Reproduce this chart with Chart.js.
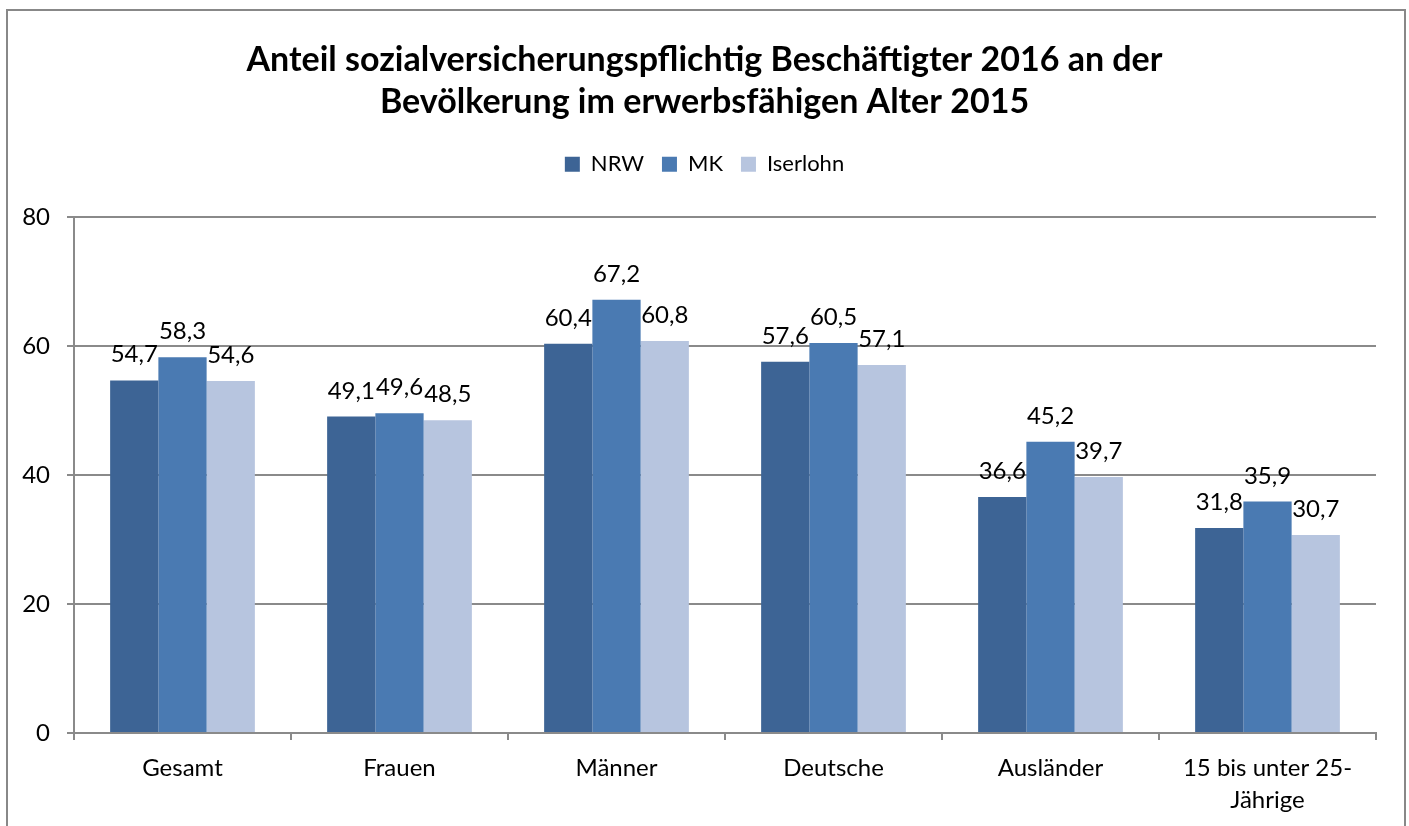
<!DOCTYPE html>
<html>
<head>
<meta charset="utf-8">
<script src="https://cdn.jsdelivr.net/npm/chart.js"></script>
<style>
  html, body { margin: 0; padding: 0; background: #fff; }
  #wrap { position: relative; width: 1409px; height: 826px; overflow: hidden; }
  #frame { position: absolute; left: 6px; top: 9px; width: 1400px; height: 840px; border: 2px solid #888; box-sizing: border-box; }
  canvas { position: absolute; left: 0; top: 0; }
</style>
</head>
<body>
<div id="wrap">
  <div id="frame"></div>
  <canvas id="chart" width="1409" height="826"></canvas>
</div>
<script>
// data
const categories = ['Gesamt', 'Frauen', 'Männer', 'Deutsche', 'Ausländer', ['15 bis unter 25-', 'Jährige']];
const nrw = [54.7, 49.1, 60.4, 57.6, 36.6, 31.8];
const mk = [58.3, 49.6, 67.2, 60.5, 45.2, 35.9];
const iserlohn = [54.6, 48.5, 60.8, 57.1, 39.7, 30.7];
const yTicks = [0, 20, 40, 60, 80];

const fontFam = 'Lato, "Open Sans", sans-serif';

// draws the value over each bar, german decimal comma
const valueLabels = {
    id: 'valueLabels',
    afterInit(chart) {
        // extra room under the legend row
        const fit = chart.legend.fit;
        chart.legend.fit = function () {
            fit.call(this);
            this.height += 32;
        };
    },
    afterDatasetsDraw(chart) {
        const ctx = chart.ctx;
        ctx.save();
        ctx.font = '24px ' + fontFam;
        ctx.fillStyle = '#000';
        ctx.textAlign = 'center';
        ctx.textBaseline = 'alphabetic';
        chart.data.datasets.forEach(function (ds, i) {
            chart.getDatasetMeta(i).data.forEach(function (bar, j) {
                let txt = ds.data[j].toFixed(1).replace('.', ',');
                ctx.fillText(txt, bar.x, bar.y - 18);
            });
        });
        ctx.restore();
    }
};

let ctx = document.getElementById('chart').getContext('2d');
new Chart(ctx, {
    type: 'bar',
    data: {
        labels: categories,
        datasets: [
            { label: 'NRW', backgroundColor: '#3d6495', data: nrw },
            { label: 'MK', backgroundColor: '#4a7ab2', data: mk },
            { label: 'Iserlohn', backgroundColor: '#b7c5df', data: iserlohn }
        ]
    },
    options: {
        responsive: false,
        animation: false,
        layout: { padding: { left: 0, right: 0, top: 10, bottom: 0 } },
        categoryPercentage: 0.667,
        barPercentage: 1.0,
        plugins: {
            title: {
                display: true,
                text: ['Anteil sozialversicherungspflichtig Beschäftigter 2016 an der', 'Bevölkerung im erwerbsfähigen Alter 2015'],
                color: '#000',
                font: { family: fontFam, size: 34, weight: 'bold', lineHeight: 1.24 },
                padding: { top: 29, bottom: 12 }
            },
            legend: {
                display: true,
                position: 'top',
                labels: {
                    color: '#000',
                    font: { family: fontFam, size: 22 },
                    boxWidth: 15,
                    boxHeight: 15,
                    padding: 18
                }
            },
            tooltip: { enabled: false }
        },
        scales: {
            x: {
                grid: { drawOnChartArea: false, drawTicks: true, tickLength: 7, color: '#8a8a8a', lineWidth: 2 },
                border: { color: '#8a8a8a', width: 2 },
                ticks: { color: '#000', font: { family: fontFam, size: 24, lineHeight: 1.33 }, padding: 12, maxRotation: 0, autoSkip: false },
                afterFit: function (scale) { scale.height = 93; }
            },
            y: {
                min: 0,
                max: 80,
                afterBuildTicks: function (scale) { scale.ticks = yTicks.map(v => ({ value: v })); },
                grid: { color: '#8a8a8a', lineWidth: 2, drawTicks: true, tickLength: 7 },
                border: { color: '#8a8a8a', width: 2 },
                ticks: { color: '#000', font: { family: fontFam, size: 24 }, padding: 17 },
                afterFit: function (scale) { scale.width = 74; }
            },
            // empty right margin so the title stays centred on the page
            yRight: {
                position: 'right',
                min: 0,
                max: 80,
                grid: { display: false },
                border: { display: false },
                ticks: { display: false },
                afterFit: function (scale) { scale.width = 33; }
            }
        }
    },
    plugins: [valueLabels]
});
</script>
</body>
</html>
